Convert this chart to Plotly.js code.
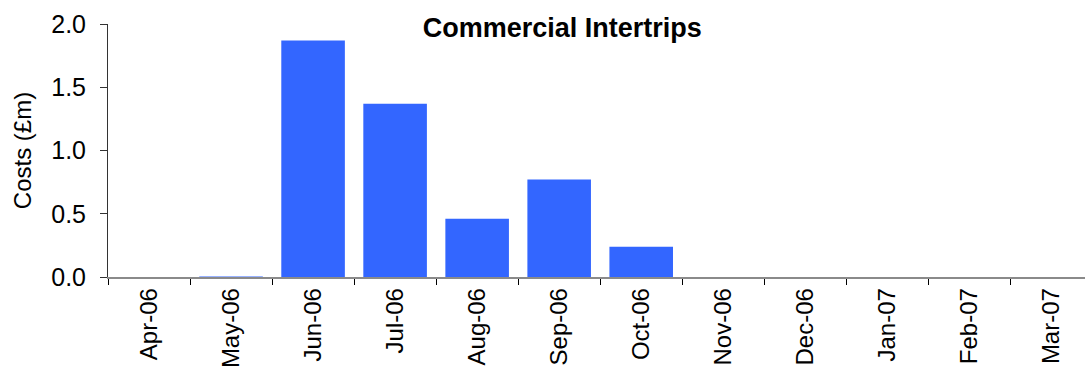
<!DOCTYPE html>
<html><head><meta charset="utf-8">
<script src="https://cdn.plot.ly/plotly-3.0.1.min.js"></script>
<style>html,body{margin:0;padding:0;background:#fff;overflow:hidden}#chart{width:1085px;height:373px}</style>
</head><body><div id="chart"></div>
<script>
const categories = ["Apr-06","May-06","Jun-06","Jul-06","Aug-06","Sep-06","Oct-06","Nov-06","Dec-06","Jan-07","Feb-07","Mar-07"];
const costs = [0, 0.004, 1.87, 1.37, 0.46, 0.77, 0.24, 0, 0, 0, 0, 0];
const yTicks = [0, 0.5, 1.0, 1.5, 2.0];
const yTickLabels = ["0.0","0.5","1.0","1.5","2.0"];

const FONT = "Liberation Sans, Arial, sans-serif";
Plotly.newPlot("chart", [{
  type: "bar", x: categories, y: costs,
  marker: {color: "#3366FF", line: {width: 0}},
  hoverinfo: "x+y"
}], {
  width: 1085, height: 373,
  margin: {l: 108, r: 0, t: 24, b: 96},
  paper_bgcolor: "#fff", plot_bgcolor: "#fff",
  bargap: 0.225,
  showlegend: false,
  font: {family: FONT, color: "#000", size: 24},
  title: {text: "<b>Commercial Intertrips</b>", font: {family: FONT, size: 27, color: "#000"},
          x: 0.465, xref: "paper", xanchor: "center", y: 0.985, yref: "paper", yanchor: "middle"},
  xaxis: {type: "category", range: [-0.5, 11.41], tickangle: -90, tickson: "boundaries", ticks: "outside", ticklen: 6,
          tickcolor: "#000", showline: true, linecolor: "#8a8a8a", linewidth: 1.5,
          showgrid: false, zeroline: false, tickfont: {size: 24}, automargin: false},
  yaxis: {range: [0, 2], tickvals: yTicks, ticktext: yTickLabels, ticks: "outside", ticklen: 7,
          tickcolor: "#333", showline: true, linecolor: "#333", linewidth: 1, ticklabelstandoff: 9,
          showgrid: false, zeroline: false, tickfont: {size: 25},
          title: {text: "Costs (£m)", font: {size: 24}, standoff: 12}, automargin: false}
}, {displayModeBar: false, staticPlot: true});
</script></body></html>
